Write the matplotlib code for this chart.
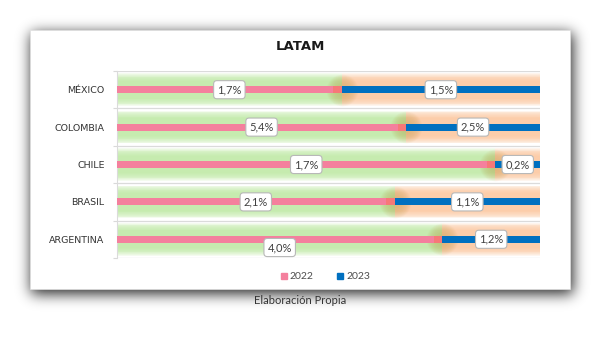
import numpy as np
import matplotlib
matplotlib.use("Agg")
import matplotlib.pyplot as plt
from matplotlib.patches import Rectangle
from matplotlib.lines import Line2D

# ---- data ----
countries = ["MÉXICO", "COLOMBIA", "CHILE", "BRASIL", "ARGENTINA"]
val_2022 = [1.7, 5.4, 1.7, 2.1, 4.0]
val_2023 = [1.5, 2.5, 0.2, 1.1, 1.2]
series_names = ["2022", "2023"]
title = "LATAM"
source = "Elaboración Propia"

# ---- style ----
PINK = "#F4809D"
BLUE = "#0070C0"
GREEN_GLOW = (0.75, 0.92, 0.64)
ORANGE_GLOW = (0.99, 0.78, 0.62)

W, H = 600, 345
fig = plt.figure(figsize=(6.0, 3.45), dpi=100)
fig.patch.set_facecolor("white")

# chart box with blurred shadow
bx0, by0, bx1, by1 = 30, 30, 570, 289

def blur1d(a, sigma, axis):
    r = int(3 * sigma)
    k = np.exp(-0.5 * (np.arange(-r, r + 1) / sigma) ** 2)
    k /= k.sum()
    return np.apply_along_axis(lambda m: np.convolve(m, k, mode="same"), axis, a)

mask = np.zeros((H, W))
mask[by0 - 1 + 4:by1 + 1 + 4, bx0 - 1 + 2:bx1 + 1 + 2] = 1.0
mask = blur1d(blur1d(mask, 7.0, 0), 7.0, 1)
shadow = np.zeros((H, W, 4))
shadow[..., 3] = 0.85 * mask
fig.figimage(shadow, xo=0, yo=0, origin="upper", zorder=0)

fig.patches.append(Rectangle((bx0 / W, 1 - by1 / H), (bx1 - bx0) / W, (by1 - by0) / H,
                             transform=fig.transFigure, facecolor="white",
                             edgecolor=(0.88, 0.88, 0.88), lw=0.5, zorder=1))

# plot axes
ax = fig.add_axes([117 / W, 1 - 258 / H, (540 - 117) / W, (258 - 71) / H], zorder=2)
ax.set_facecolor("none")

n = len(countries)
ypos = np.arange(n)[::-1]
v22 = np.array(val_2022)
v23 = np.array(val_2023)
share22 = v22 / (v22 + v23)
share23 = v23 / (v22 + v23)

# glow layers
for h in np.linspace(0.48, 0.87, 10):
    ax.barh(ypos, share22, height=h, color=GREEN_GLOW, alpha=0.17, lw=0, zorder=1)
    ax.barh(ypos, share23, left=share22, height=h, color=ORANGE_GLOW, alpha=0.17, lw=0, zorder=1)
# boundary blob
for s in np.linspace(520, 60, 10):
    ax.scatter(share22, ypos, s=s, color=(0.74, 0.58, 0.22), alpha=0.045, lw=0, zorder=2)

# main bars
bh = 0.19
ax.barh(ypos, share22, height=bh, color=PINK, lw=0, zorder=3, label=series_names[0])
ax.barh(ypos, share23, left=share22, height=bh, color=BLUE, lw=0, zorder=3, label=series_names[1])
ax.barh(ypos, 0.02, left=share22 - 0.02, height=bh, color=(0.98, 0.45, 0.35), alpha=0.55, lw=0, zorder=3.5)

# value labels
def fmt(v):
    return f"{v:.1f}".replace(".", ",") + "%"
label_dy = [0, 0, 0, 0, 0.22]
bbox = dict(boxstyle="round,pad=0.32,rounding_size=0.3", fc="white", ec=(0.72, 0.72, 0.72), lw=0.8)
for i in range(n):
    y = ypos[i]
    ax.text(share22[i] / 2, y - label_dy[i], fmt(v22[i]), ha="center", va="center",
            fontsize=8, color=(0.25, 0.25, 0.25), family="Lato", bbox=bbox, zorder=5)
    ax.text(share22[i] + share23[i] / 2, y, fmt(v23[i]), ha="center", va="center",
            fontsize=8, color=(0.25, 0.25, 0.25), family="Lato", bbox=bbox, zorder=5)

ax.set_xlim(0, 1)
ax.set_ylim(-0.5, n - 0.5)
ax.set_xticks([])
ax.set_yticks(ypos)
ax.set_yticklabels(countries, fontsize=6.8, color=(0.2, 0.2, 0.2), family="DejaVu Sans")
ax.tick_params(axis="y", which="major", length=0, pad=9)
ax.set_yticks(np.arange(n + 1) - 0.5, minor=True)
ax.tick_params(axis="y", which="minor", length=3, color=(0.85, 0.85, 0.85), width=0.8)
for yy in np.arange(n + 1) - 0.5:
    ax.axhline(yy, color=(0.86, 0.86, 0.86), lw=0.9, zorder=0.5)
for sp in ["top", "right", "bottom"]:
    ax.spines[sp].set_visible(False)
ax.spines["left"].set_color((0.86, 0.86, 0.86))
ax.spines["left"].set_linewidth(0.8)

# legend
handles = [Line2D([], [], marker="s", ls="", color=PINK, markersize=5),
           Line2D([], [], marker="s", ls="", color=BLUE, markersize=5)]
ax.legend(handles, series_names, loc="center", bbox_to_anchor=(0.49, -0.1), ncol=2,
          frameon=False, prop={"family": "Lato", "size": 7.5}, handletextpad=0.1,
          columnspacing=2.0, handlelength=1.0, labelcolor=(0.3, 0.3, 0.3))

fig.text(0.5, 1 - 47 / H, title, ha="center", va="center", fontsize=9.5, fontweight="bold",
         family="DejaVu Sans", color=(0.1, 0.1, 0.1), zorder=3)
fig.text(0.5, 1 - 301 / H, source, ha="center", va="center", fontsize=8,
         family="Lato", color=(0.2, 0.2, 0.2), zorder=3)

fig.savefig("out.png", dpi=100)
